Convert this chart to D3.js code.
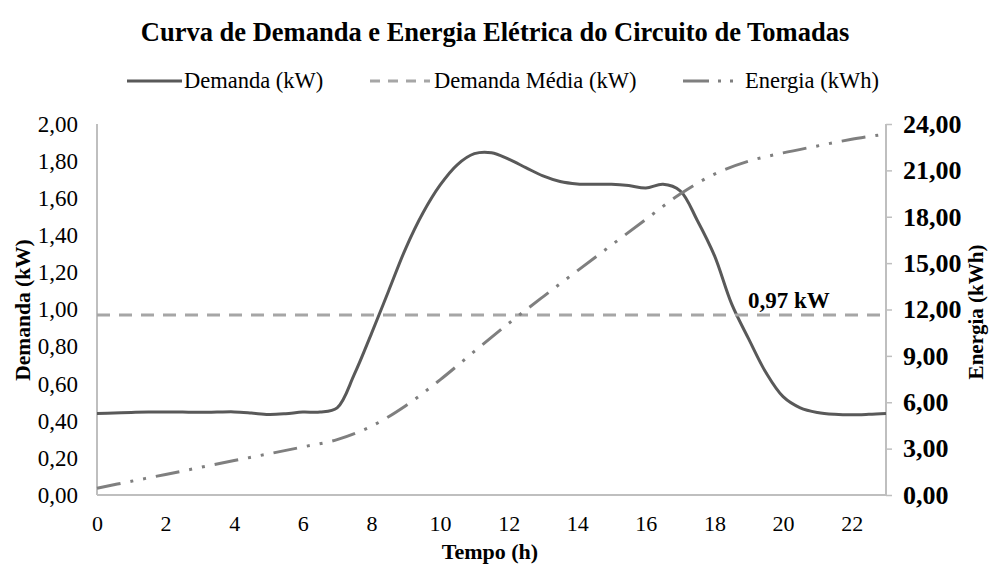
<!DOCTYPE html>
<html><head><meta charset="utf-8">
<script src="https://cdn.jsdelivr.net/npm/d3@7"></script>
<style>
body{margin:0;background:#fff}
text{font-family:"Liberation Serif","Times New Roman",serif;fill:#000}
</style>
</head><body><svg id="c" width="989" height="565"></svg>
<script>
// ---- data ----
const demandTime = [0,0.5,1,1.5,2,2.5,3,3.5,4,4.5,5,5.5,6,6.5,7,7.5,8,8.5,9,9.5,10,10.5,11,11.5,12,12.5,13,13.5,14,14.5,15,15.5,16,16.5,17,17.5,18,18.5,19,19.5,20,20.5,21,21.5,22,22.5,23];
const demandKW = [0.440,0.442,0.445,0.447,0.448,0.447,0.446,0.447,0.448,0.442,0.434,0.438,0.447,0.447,0.470,0.650,0.870,1.100,1.330,1.520,1.670,1.780,1.840,1.845,1.810,1.765,1.720,1.690,1.677,1.675,1.675,1.668,1.655,1.675,1.640,1.480,1.290,1.030,0.840,0.660,0.530,0.470,0.445,0.435,0.432,0.435,0.440];
const energyTime = [0,1,2,3,4,5,6,7,8,9,10,11,12,13,14,15,16,17,18,19,20,21,22,23];
const energyKWh = [0.44,0.89,1.33,1.78,2.23,2.66,3.11,3.58,4.45,5.78,7.45,9.29,11.10,12.82,14.50,16.17,17.83,19.47,20.76,21.60,22.13,22.58,23.01,23.35];
const avgDemand = 0.97;
const xTicks = [0,2,4,6,8,10,12,14,16,18,20,22];
const leftTicks = [0,0.2,0.4,0.6,0.8,1.0,1.2,1.4,1.6,1.8,2.0];
const rightTicks = [0,3,6,9,12,15,18,21,24];
const title = "Curva de Demanda e Energia Elétrica do Circuito de Tomadas";
const legendLabels = ["Demanda (kW)","Demanda Média (kW)","Energia (kWh)"];
const avgLabel = "0,97 kW";

// ---- layout ----
const svg = d3.select("#c");
const L = 97, R = 886, T = 124, B = 495;
const x = d3.scaleLinear().domain([0,23]).range([L,R]);
const yL = d3.scaleLinear().domain([0,2]).range([B,T]);
const yR = d3.scaleLinear().domain([0,24]).range([B,T]);
const loc = d3.formatLocale({decimal:",",thousands:".",grouping:[3],currency:["",""]});
const f2 = loc.format(".2f");
const axisColor = "#BFBFBF";

function txt(xp, yp, s, size, opts={}) {
  return svg.append("text")
    .attr("transform", `translate(${xp},${yp})` + (opts.rot ? ` rotate(${opts.rot})` : ""))
    .attr("text-anchor", opts.anchor || "start")
    .style("font-size", size + "px")
    .style("font-weight", opts.bold ? "bold" : "normal")
    .text(s);
}

// title
txt(495, 41, title, 26.5, {anchor:"middle", bold:true});

// axes
const gL = svg.append("g").attr("transform", `translate(${L},0)`)
  .call(d3.axisLeft(yL).tickValues(leftTicks).tickFormat(f2).tickSize(0).tickPadding(19));
const gR = svg.append("g").attr("transform", `translate(${R},0)`)
  .call(d3.axisRight(yR).tickValues(rightTicks).tickFormat(f2).tickSize(6).tickPadding(11));
const gB = svg.append("g").attr("transform", `translate(0,${B})`)
  .call(d3.axisBottom(x).tickValues(xTicks).tickFormat(d3.format("d")).tickSize(0).tickPadding(20));
[gL,gR,gB].forEach(g => {
  g.select(".domain").attr("stroke", axisColor).attr("stroke-width", 2);
  g.selectAll(".tick line").attr("stroke", axisColor).attr("stroke-width", 1.5);
  g.selectAll("text").attr("fill","#000")
   .style("font-family",'"Liberation Serif","Times New Roman",serif');
});
gL.select(".domain").attr("d", `M0,${T}V${B}`);
gR.select(".domain").attr("d", `M0,${T}V${B}`);
gB.select(".domain").attr("d", `M${L},0H${R}`);
gL.selectAll("text").style("font-size","23px");
gR.selectAll("text").style("font-size","26px").style("font-weight","bold");
gB.selectAll("text").style("font-size","22px");

// axis titles
txt(490, 559, "Tempo (h)", 22, {anchor:"middle", bold:true});
txt(30, 310, "Demanda (kW)", 21.5, {anchor:"middle", bold:true, rot:-90});
txt(983, 312, "Energia (kWh)", 21, {anchor:"middle", bold:true, rot:-90});

// series
const demandPts = demandTime.map((t,i)=>[t,demandKW[i]]);
const energyPts = energyTime.map((t,i)=>[t,energyKWh[i]]);

const lineD = d3.line().x(d=>x(d[0])).y(d=>yL(d[1])).curve(d3.curveCatmullRom.alpha(0.5));
const lineE = d3.line().x(d=>x(d[0])).y(d=>yR(d[1])).curve(d3.curveCatmullRom.alpha(0.5));

const styles = [
  {stroke:"#595959", width:3, dash:null},
  {stroke:"#A6A6A6", width:3, dash:"13,9"},
  {stroke:"#7F7F7F", width:3, dash:"24,10,3,10,3,10"}
];

svg.append("path").datum(demandPts).attr("d", lineD)
  .attr("fill","none").attr("stroke",styles[0].stroke).attr("stroke-width",styles[0].width);
svg.append("line").attr("x1", x(0)).attr("x2", x(23)).attr("y1", yL(avgDemand)).attr("y2", yL(avgDemand))
  .attr("stroke",styles[1].stroke).attr("stroke-width",styles[1].width).attr("stroke-dasharray",styles[1].dash);
svg.append("path").datum(energyPts).attr("d", lineE)
  .attr("fill","none").attr("stroke",styles[2].stroke).attr("stroke-width",styles[2].width)
  .attr("stroke-dasharray",styles[2].dash);

// avg label
txt(748, 308, avgLabel, 23, {bold:true});

// legend
const legendPos = [{x1:127,x2:182,tx:184},{x1:370,x2:430,tx:434},{x1:683,x2:738,tx:745}];
const legendDash = [null,"10,8","26,9,3,9,3,9"];
legendLabels.forEach((lab,i)=>{
  const p = legendPos[i];
  svg.append("line").attr("x1",p.x1).attr("x2",p.x2).attr("y1",81).attr("y2",81)
    .attr("stroke",styles[i].stroke).attr("stroke-width",3)
    .attr("stroke-dasharray",legendDash[i]);
  txt(p.tx, 88, lab, 22.5);
});
</script>
</body></html>
